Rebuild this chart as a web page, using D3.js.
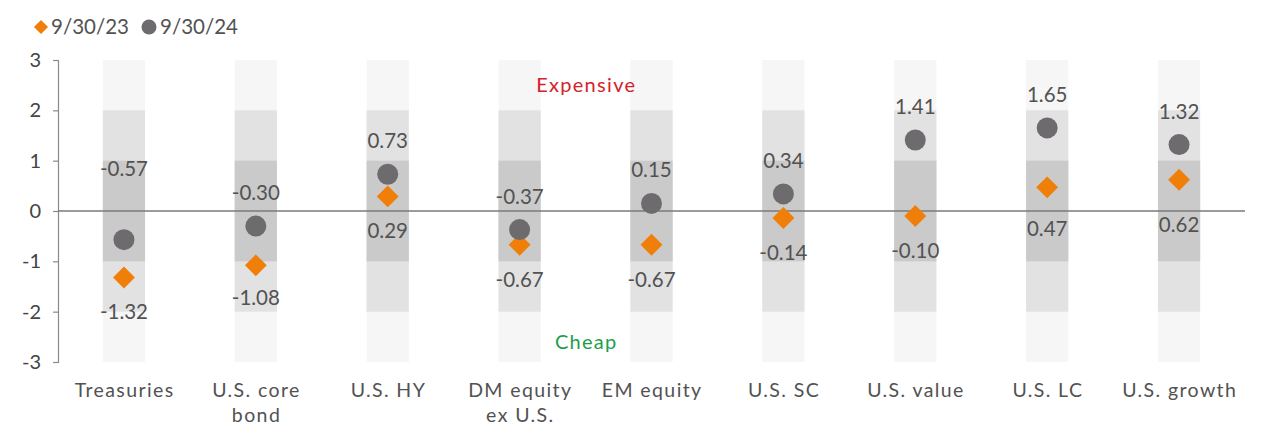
<!DOCTYPE html>
<html><head><meta charset="utf-8">
<script src="https://cdn.jsdelivr.net/npm/d3@7"></script>
<style>
html,body{margin:0;padding:0;background:#fff;}
svg{display:block;font-family:Lato, "Open Sans", sans-serif;}
</style></head>
<body>
<svg id="chart" width="1286" height="435"></svg>
<script>
const categories = [["Treasuries"],["U.S. core","bond"],["U.S. HY"],["DM equity","ex U.S."],["EM equity"],["U.S. SC"],["U.S. value"],["U.S. LC"],["U.S. growth"]];
const catKeys = categories.map(c => c.join(" "));
const series2023 = [-1.32,-1.08,0.29,-0.67,-0.67,-0.14,-0.10,0.47,0.62];
const series2024 = [-0.57,-0.30,0.73,-0.37,0.15,0.34,1.41,1.65,1.32];
const yTicks = [3,2,1,0,-1,-2,-3];
const legendLabels = ["9/30/23","9/30/24"];
const bandLevels = [3,2,1];

const svg = d3.select("#chart");
const x = d3.scaleBand().domain(catKeys).range([58,1245]).paddingInner(0.68).paddingOuter(0.34);
const y = d3.scaleLinear().domain([-3,3]).range([362,60]);
const txt = "#525252";

// bands
const bandColors = {3:"#f6f6f6",2:"#e3e2e3",1:"#cbcaca"};
bandLevels.forEach(l => {
  svg.append("g").selectAll("rect").data(catKeys).join("rect")
    .attr("x", d => x(d)).attr("width", x.bandwidth())
    .attr("y", y(l)).attr("height", y(-l)-y(l))
    .attr("fill", bandColors[l]);
});

// y axis
const yAxis = svg.append("g").attr("transform","translate(58,0)")
  .call(d3.axisLeft(y).tickValues(yTicks).tickSize(5).tickPadding(12).tickFormat(d => String(d)));
yAxis.select(".domain").attr("stroke","#8a8a8a").attr("stroke-width",1.2);
yAxis.selectAll(".tick line").attr("stroke","#8a8a8a").attr("stroke-width",1.2);
yAxis.selectAll(".tick text").attr("fill","#444").attr("font-size",20).attr("font-family","Lato, sans-serif");

// zero line
svg.append("line").attr("x1",58).attr("x2",1245).attr("y1",y(0)).attr("y2",y(0))
  .attr("stroke","#7a7a7a").attr("stroke-width",1.3);

// x labels
const xl = svg.append("g").selectAll("text").data(categories).join("text")
  .attr("x",(d,i)=>x(catKeys[i])+x.bandwidth()/2).attr("y",397)
  .attr("text-anchor","middle").attr("fill",txt).attr("font-size",19.5)
  .attr("letter-spacing","1.4px");
xl.each(function(d){
  const t = d3.select(this);
  d.forEach((line,j)=> t.append("tspan").attr("x",+t.attr("x")+0.7).attr("dy", j===0?0:25).text(line));
});

// region labels
const midX = (x(catKeys[3])+x(catKeys[4])+x.bandwidth())/2;
svg.append("text").attr("x",midX+0.7).attr("y",y(2.5)+7).attr("text-anchor","middle")
  .attr("fill","#d3222a").attr("font-size",20).attr("letter-spacing","1.3px").text("Expensive");
svg.append("text").attr("x",midX+0.7).attr("y",y(-2.6)+7).attr("text-anchor","middle")
  .attr("fill","#1c9e48").attr("font-size",20).attr("letter-spacing","1.3px").text("Cheap");

const cx = i => x(catKeys[i]) + x.bandwidth()/2;
const orange = "#f07f09", gray = "#6d6b6d";

// diamonds
svg.append("g").selectAll("path").data(series2023).join("path")
  .attr("d", d3.symbol(d3.symbolSquare, 240)())
  .attr("transform",(d,i)=>`translate(${cx(i)},${y(d)}) rotate(45)`)
  .attr("fill",orange);
// circles
svg.append("g").selectAll("circle").data(series2024).join("circle")
  .attr("cx",(d,i)=>cx(i)).attr("cy",d=>y(d)).attr("r",10.5).attr("fill",gray);

// value labels
const lblOff24 = [-64,-26,-26,-26,-26,-26,-26,-26,-26];
const lblOff23 = [42,40,42,42,42,42,42,49,52];
svg.append("g").selectAll("text").data(series2024).join("text")
  .attr("x",(d,i)=>cx(i)).attr("y",(d,i)=>y(d)+lblOff24[i])
  .attr("text-anchor","middle").attr("fill",txt).attr("font-size",20.5)
  .text(d=>d.toFixed(2));
svg.append("g").selectAll("text").data(series2023).join("text")
  .attr("x",(d,i)=>cx(i)).attr("y",(d,i)=>y(d)+lblOff23[i])
  .attr("text-anchor","middle").attr("fill",txt).attr("font-size",20.5)
  .text(d=>d.toFixed(2));

// legend
const lg = svg.append("g");
lg.append("path").attr("d", d3.symbol(d3.symbolSquare, 100)()).attr("transform","translate(41,27) rotate(45)").attr("fill",orange);
lg.append("text").attr("x",51).attr("y",34).attr("fill",txt).attr("font-size",20.5).text(legendLabels[0]);
lg.append("circle").attr("cx",149).attr("cy",27).attr("r",7.5).attr("fill",gray);
lg.append("text").attr("x",160).attr("y",34).attr("fill",txt).attr("font-size",20.5).text(legendLabels[1]);
</script>
</body></html>
